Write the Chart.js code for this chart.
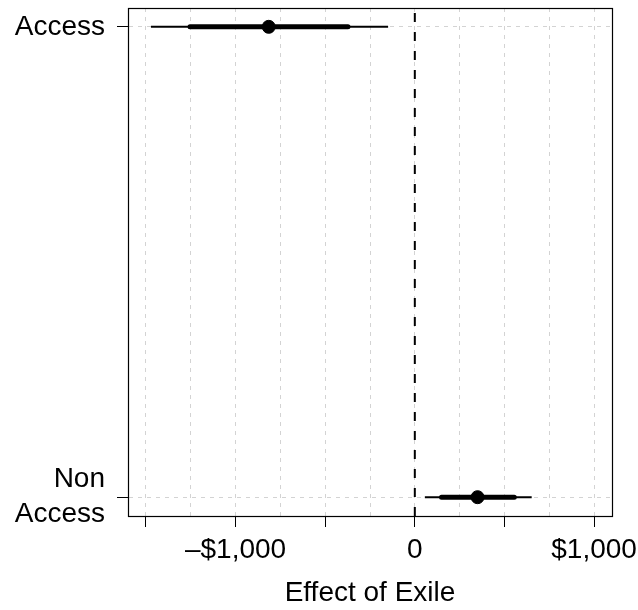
<!DOCTYPE html>
<html>
<head>
<meta charset="utf-8">
<script src="https://cdn.jsdelivr.net/npm/chart.js@4/dist/chart.umd.min.js"></script>
<style>
  html, body { margin: 0; padding: 0; background: #fff; }
  canvas { display: block; }
</style>
</head>
<body>
<canvas id="chart" width="638" height="610"></canvas>
<script>
// Estimated effect of exile, by group, with two interval widths
const categories = ['Access', 'Non Access'];
const categoryLabels = ['Access', ['Non', 'Access']];
const categoryPositions = [2, 1];
const estimates = [-815, 350];
const outerLow = [-1472, 56];
const outerHigh = [-149, 652];
const innerLow = [-1254, 149];
const innerHigh = [-373, 555];
const xTickValues = [-1500, -1250, -1000, -750, -500, -250, 0, 250, 500, 750, 1000];
const xTickLabels = { '-1000': '\u2013$1,000', '0': '0', '1000': '$1,000' };

const FONT = "'Liberation Sans', Arial, Helvetica, sans-serif";

const datasets = [];
// reference line at zero
datasets.push({
  type: 'line',
  data: [{ x: 0, y: 0.96 }, { x: 0, y: 2.04 }],
  borderColor: '#000',
  borderWidth: 2,
  borderDash: [9, 10],
  pointRadius: 0,
  showLine: true
});
categories.forEach((name, i) => {
  const y = categoryPositions[i];
  datasets.push({
    type: 'line', label: name + ' outer',
    data: [{ x: outerLow[i], y }, { x: outerHigh[i], y }],
    borderColor: '#000', borderWidth: 2, pointRadius: 0, showLine: true,
    borderCapStyle: 'butt'
  });
  datasets.push({
    type: 'line', label: name + ' inner',
    data: [{ x: innerLow[i], y }, { x: innerHigh[i], y }],
    borderColor: '#000', borderWidth: 5, pointRadius: 0, showLine: true,
    borderCapStyle: 'round'
  });
  datasets.push({
    type: 'scatter', label: name,
    data: [{ x: estimates[i], y }],
    backgroundColor: '#000', borderColor: '#000',
    pointRadius: 6.5, pointHoverRadius: 6.5
  });
});

// full frame around the plotting region
const frame = {
  id: 'frame',
  afterDatasetsDraw(chart) {
    const { ctx, chartArea: a } = chart;
    ctx.save();
    ctx.strokeStyle = '#000';
    ctx.lineWidth = 1.2;
    ctx.strokeRect(a.left + 0.5, a.top + 0.5, a.right - a.left, a.bottom - a.top);
    ctx.restore();
  }
};

// keep the plotting region fixed regardless of label overhang
const noOverhang = (s) => {
  s.paddingTop = 0; s.paddingBottom = 0; s.paddingLeft = 0; s.paddingRight = 0;
};

new Chart(document.getElementById('chart'), {
  type: 'scatter',
  data: { datasets },
  plugins: [frame],
  options: {
    responsive: false,
    devicePixelRatio: 1,
    animation: false,
    events: [],
    layout: { padding: { top: 8, right: 26, left: 0, bottom: 0 } },
    plugins: { legend: { display: false }, tooltip: { enabled: false } },
    scales: {
      x: {
        type: 'linear',
        min: -1600,
        max: 1100,
        afterBuildTicks: (s) => { s.ticks = xTickValues.map(v => ({ value: v })); },
        afterFit: (s) => { s.height = 94; noOverhang(s); },
        grid: {
          color: '#d3d3d3',
          lineWidth: 1,
          tickLength: 11,
          tickWidth: 1,
          tickColor: (c) => (c.tick && c.tick.value % 500 === 0) ? '#000' : 'rgba(0,0,0,0)'
        },
        border: { display: true, color: '#000', dash: [4, 5] },
        ticks: {
          autoSkip: false,
          maxRotation: 0,
          padding: 6,
          color: '#000',
          font: { family: FONT, size: 28 },
          callback: (v) => xTickLabels[String(v)] !== undefined ? xTickLabels[String(v)] : ''
        },
        title: {
          display: true,
          text: 'Effect of Exile',
          color: '#000',
          font: { family: FONT, size: 28 },
          padding: { top: 0, bottom: 0 }
        }
      },
      y: {
        type: 'linear',
        min: 0.96,
        max: 2.04,
        afterBuildTicks: (s) => { s.ticks = categoryPositions.map(v => ({ value: v })); },
        afterFit: (s) => { s.width = 128; noOverhang(s); },
        grid: {
          color: '#d3d3d3',
          lineWidth: 1,
          tickLength: 11,
          tickWidth: 1,
          tickColor: '#000'
        },
        border: { display: true, color: '#000', dash: [4, 5] },
        ticks: {
          autoSkip: false,
          padding: 12,
          color: '#000',
          font: { family: FONT, size: 28, lineHeight: 1.25 },
          callback: (v) => {
            const i = categoryPositions.indexOf(v);
            return i >= 0 ? categoryLabels[i] : '';
          }
        }
      }
    }
  }
});
</script>
</body>
</html>
